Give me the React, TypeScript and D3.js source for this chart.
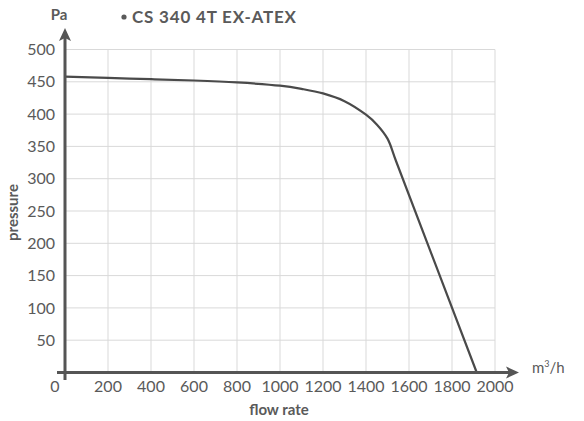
import React from "react";
import * as d3 from "d3";

const flowTicks = [0, 200, 400, 600, 800, 1000, 1200, 1400, 1600, 1800, 2000];
const pressureTicks = [50, 100, 150, 200, 250, 300, 350, 400, 450, 500];
const flow = [0, 200, 400, 600, 800, 1000, 1100, 1200, 1300, 1400, 1450, 1500, 1540, 1915];
const pressure = [458, 456, 454, 452, 449, 444, 439, 432, 420, 399, 384, 362, 327, 0];

const title = "CS 340 4T EX-ATEX";
const font = "Lato, 'Open Sans', sans-serif";

export default function App() {
  const W = 584, H = 421;
  const x = d3.scaleLinear().domain([0, 2000]).range([65, 495]);
  const y = d3.scaleLinear().domain([0, 500]).range([372.5, 49.5]);
  const pts: [number, number][] = flow.map((f, i) => [f, pressure[i]]);
  const line = d3
    .line<[number, number]>()
    .x((d) => x(d[0]))
    .y((d) => y(d[1]))
    .curve(d3.curveCatmullRom.alpha(0.5));
  const pathD = line(pts) || "";
  const axisColor = "#555";
  const textColor = "#5a5a5a";
  return (
    <svg width={W} height={H} style={{ position: "absolute", left: 0, top: 0, background: "#fff" }}>
      {flowTicks.filter((t) => t > 0).map((t) => (
        <line key={"gx" + t} x1={x(t)} x2={x(t)} y1={y(500)} y2={y(0)} stroke="#d9d9d9" strokeWidth={1} />
      ))}
      {pressureTicks.map((t) => (
        <line key={"gy" + t} x1={x(0)} x2={x(2000)} y1={y(t)} y2={y(t)} stroke="#d9d9d9" strokeWidth={1} />
      ))}
      <path d={pathD} fill="none" stroke="#4a4a4a" strokeWidth={2.2} strokeLinejoin="round" />
      {/* axes */}
      <line x1={57} x2={512} y1={y(0)} y2={y(0)} stroke={axisColor} strokeWidth={3} />
      <path d={`M519,${y(0)} L506,${y(0) - 6} L509,${y(0)} L506,${y(0) + 6} Z`} fill={axisColor} />
      <line x1={x(0)} x2={x(0)} y1={380} y2={36} stroke={axisColor} strokeWidth={3} />
      <path d={`M${x(0)},28 L${x(0) - 6},41 L${x(0)},38 L${x(0) + 6},41 Z`} fill={axisColor} />
      {pressureTicks.map((t) => (
        <text key={"ty" + t} x={55} y={y(t)} dy="0.35em" textAnchor="end" fontFamily={font} fontSize={16} fill={textColor}>
          {t}
        </text>
      ))}
      {flowTicks.map((t) => (
        <text key={"tx" + t} x={t === 0 ? 55 : x(t)} y={392} textAnchor="middle" fontFamily={font} fontSize={16} fill={textColor}>
          {t}
        </text>
      ))}
      <text x={279} y={415} textAnchor="middle" fontFamily={font} fontWeight="bold" fontSize={15} fill={textColor}>
        flow rate
      </text>
      <text transform="translate(17.5,212.5) rotate(-90)" textAnchor="middle" fontFamily={font} fontWeight="bold" fontSize={15} fill={textColor}>
        pressure
      </text>
      <text x={59} y={19.5} textAnchor="middle" fontFamily={font} fontWeight="bold" fontSize={15} fill={textColor}>
        Pa
      </text>
      <circle cx={124} cy={17} r={2.6} fill={textColor} />
      <text x={132} y={23} fontFamily={font} fontWeight="bold" fontSize={17} letterSpacing={0.8} fill={textColor}>
        {title}
      </text>
      <text x={532} y={373} fontFamily={font} fontSize={15} fill={textColor}>
        m<tspan dy={-6} fontSize={9}>3</tspan><tspan dy={6}>/h</tspan>
      </text>
    </svg>
  );
}
